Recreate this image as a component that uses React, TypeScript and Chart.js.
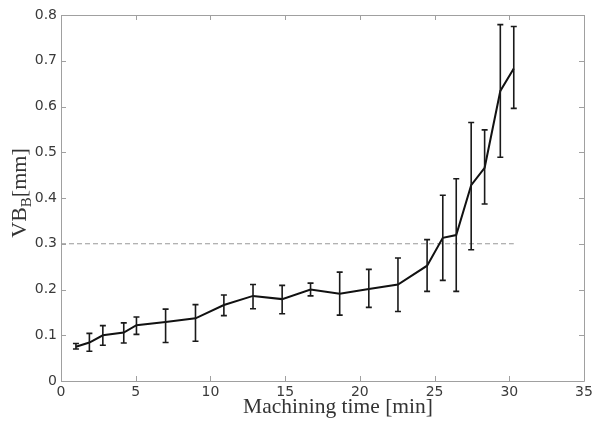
import React, { useEffect, useRef } from "react";
import { Chart, registerables } from "chart.js";

Chart.register(...registerables);

const times = [1, 1.9, 2.8, 4.2, 5.05, 7, 9, 10.9, 12.85, 14.8, 16.7, 18.65, 20.6, 22.55, 24.5, 25.55, 26.45, 27.45, 28.35, 29.4, 30.3];
const wear = [0.075, 0.084, 0.1, 0.106, 0.122, 0.129, 0.137, 0.166, 0.186, 0.179, 0.2, 0.191, 0.201, 0.211, 0.252, 0.313, 0.319, 0.428, 0.466, 0.634, 0.683];
const wearHigh = [0.082, 0.104, 0.121, 0.127, 0.14, 0.157, 0.167, 0.188, 0.211, 0.209, 0.214, 0.238, 0.244, 0.269, 0.309, 0.406, 0.442, 0.565, 0.549, 0.779, 0.775];
const wearLow = [0.07, 0.065, 0.078, 0.083, 0.102, 0.084, 0.087, 0.143, 0.158, 0.147, 0.186, 0.144, 0.161, 0.152, 0.196, 0.22, 0.196, 0.287, 0.387, 0.489, 0.596];
const limitX = [0, 30.3];
const limitY = [0.3, 0.3];
const xTicks = [0, 5, 10, 15, 20, 25, 30, 35];
const yTicks = [0, 0.1, 0.2, 0.3, 0.4, 0.5, 0.6, 0.7, 0.8];
const xTitle = "Machining time [min]";
const yTitleMain = "VB";
const yTitleSub = "B";
const yTitleUnit = "[mm]";

const AXIS_COLOR = "#a0a0a0";
const TEXT_COLOR = "#3a3a3a";

const framePlugin = {
  id: "frame",
  afterDatasetsDraw(chart: any) {
    const { ctx, scales } = chart;
    const xs = scales.x;
    const ys = scales.y;
    ctx.save();
    ctx.strokeStyle = "#1a1a1a";
    ctx.lineWidth = 1.6;
    for (let i = 0; i < times.length; i++) {
      const px = xs.getPixelForValue(times[i]);
      const pHi = ys.getPixelForValue(wearHigh[i]);
      const pLo = ys.getPixelForValue(wearLow[i]);
      ctx.beginPath();
      ctx.moveTo(px, pHi);
      ctx.lineTo(px, pLo);
      ctx.moveTo(px - 3, pHi);
      ctx.lineTo(px + 3, pHi);
      ctx.moveTo(px - 3, pLo);
      ctx.lineTo(px + 3, pLo);
      ctx.stroke();
    }
    ctx.restore();
  },
  afterDraw(chart: any) {
    const { ctx, chartArea, scales } = chart;
    const xs = scales.x;
    const ys = scales.y;
    const { left, right, top, bottom } = chartArea;
    ctx.save();
    ctx.strokeStyle = AXIS_COLOR;
    ctx.lineWidth = 1;
    ctx.beginPath();
    ctx.rect(Math.round(left) + 0.5, Math.round(top) + 0.5, Math.round(right - left), Math.round(bottom - top));
    ctx.stroke();
    const tl = 5;
    ctx.beginPath();
    for (const v of xTicks) {
      const px = Math.round(xs.getPixelForValue(v)) + 0.5;
      ctx.moveTo(px, bottom);
      ctx.lineTo(px, bottom - tl);
      ctx.moveTo(px, top);
      ctx.lineTo(px, top + tl);
    }
    for (const v of yTicks) {
      const py = Math.round(ys.getPixelForValue(v)) + 0.5;
      ctx.moveTo(left, py);
      ctx.lineTo(left + tl, py);
      ctx.moveTo(right, py);
      ctx.lineTo(right - tl, py);
    }
    ctx.stroke();

    ctx.fillStyle = "#333333";
    ctx.font = '21.5px "Liberation Serif", "Times New Roman", serif';
    ctx.textAlign = "center";
    ctx.textBaseline = "alphabetic";
    ctx.fillText(xTitle, 338, 413);

    const mainFont = '22px "Liberation Serif", "Times New Roman", serif';
    const subFont = '15px "Liberation Serif", "Times New Roman", serif';
    ctx.font = mainFont;
    const w1 = ctx.measureText(yTitleMain).width;
    const w3 = ctx.measureText(yTitleUnit).width;
    ctx.font = subFont;
    const w2 = ctx.measureText(yTitleSub).width;
    const total = w1 + w2 + w3;
    ctx.translate(26, 193);
    ctx.rotate(-Math.PI / 2);
    ctx.textAlign = "left";
    let cx = -total / 2;
    ctx.font = mainFont;
    ctx.fillText(yTitleMain, cx, 0);
    cx += w1;
    ctx.font = subFont;
    ctx.fillText(yTitleSub, cx, 5);
    cx += w2;
    ctx.font = mainFont;
    ctx.fillText(yTitleUnit, cx, 0);
    ctx.restore();
  },
};

export default function App() {
  const ref = useRef<HTMLCanvasElement | null>(null);
  useEffect(() => {
    if (!ref.current) return;
    const chart = new Chart(ref.current, {
      type: "scatter",
      data: {
        datasets: [
          {
            data: times.map((t, i) => ({ x: t, y: wear[i] })),
            showLine: true,
            borderColor: "#111111",
            borderWidth: 2,
            pointRadius: 0,
            tension: 0,
          },
          {
            data: limitX.map((t, i) => ({ x: t, y: limitY[i] })),
            showLine: true,
            borderColor: "#999999",
            borderWidth: 1.2,
            borderDash: [5, 3],
            pointRadius: 0,
          },
        ],
      },
      options: {
        responsive: false,
        animation: false,
        layout: { padding: { left: 0, right: 8, top: 15, bottom: 0 } },
        plugins: { legend: { display: false }, tooltip: { enabled: false } },
        scales: {
          x: {
            type: "linear",
            min: 0,
            max: 35,
            afterFit: (s: any) => {
              s.height = 40;
              s.paddingRight = 0;
              s.paddingLeft = 0;
            },
            afterBuildTicks: (s: any) => {
              s.ticks = xTicks.map((v) => ({ value: v }));
            },
            grid: { display: false, drawTicks: false },
            border: { display: false },
            ticks: {
              color: TEXT_COLOR,
              padding: 3,
              maxRotation: 0,
              font: { family: '"DejaVu Sans", sans-serif', size: 14 },
              callback: (v: any) => String(v),
            },
          },
          y: {
            type: "linear",
            min: 0,
            max: 0.8,
            afterFit: (s: any) => {
              s.width = 61;
              s.paddingTop = 0;
              s.paddingBottom = 0;
            },
            afterBuildTicks: (s: any) => {
              s.ticks = yTicks.map((v) => ({ value: v }));
            },
            grid: { display: false, drawTicks: false },
            border: { display: false },
            ticks: {
              color: TEXT_COLOR,
              padding: 4,
              font: { family: '"DejaVu Sans", sans-serif', size: 14 },
              callback: (v: any) => (v === 0 ? "0" : Number(v).toFixed(1)),
            },
          },
        },
      },
      plugins: [framePlugin],
    });
    return () => chart.destroy();
  }, []);
  return (
    <canvas
      ref={ref}
      width={592}
      height={421}
      style={{ position: "fixed", left: 0, top: 0, width: 592, height: 421, background: "#ffffff" }}
    />
  );
}
